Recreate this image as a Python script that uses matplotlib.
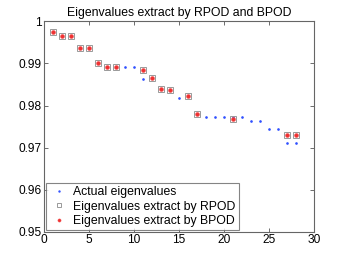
import matplotlib
matplotlib.use("Agg")
import matplotlib.pyplot as plt

plt.rcParams['font.family'] = ['Liberation Sans', 'DejaVu Sans']

actual_x = list(range(1, 29))
actual_y = [0.9975, 0.9966, 0.9966, 0.9937, 0.9937, 0.9900, 0.9892, 0.9892,
            0.9892, 0.9892, 0.9863, 0.9866, 0.9840, 0.9836, 0.9819, 0.9822,
            0.9781, 0.9773, 0.9773, 0.9773, 0.9773, 0.9773, 0.9763, 0.9763,
            0.9744, 0.9744, 0.9711, 0.9711]

ext_x = [1, 2, 3, 4, 5, 6, 7, 8, 11, 12, 13, 14, 16, 17, 21, 27, 28]
rpod_y = [0.9975, 0.9966, 0.9966, 0.9937, 0.9937, 0.9900, 0.9892, 0.9892,
          0.9884, 0.9866, 0.9840, 0.9836, 0.9822, 0.9781, 0.9768, 0.9729, 0.9729]
bpod_y = list(rpod_y)

title = "Eigenvalues extract by RPOD and BPOD"
labels = ["Actual eigenvalues", "Eigenvalues extract by RPOD", "Eigenvalues extract by BPOD"]
xticks = [0, 5, 10, 15, 20, 25, 30]
yticks = [0.95, 0.96, 0.97, 0.98, 0.99, 1.0]
yticklabels = ["0.95", "0.96", "0.97", "0.98", "0.99", "1"]

fig = plt.figure(figsize=(3.46, 2.6), dpi=100)
ax = fig.add_axes([0.127, 0.108, 0.7805, 0.81])

ax.plot(actual_x, actual_y, linestyle='none', marker='.', markersize=1.8,
        color='#3050ff', label=labels[0])
ax.plot(ext_x, rpod_y, linestyle='none', marker='s', markersize=4.3,
        markerfacecolor='none', markeredgecolor='#999999', markeredgewidth=0.7,
        label=labels[1])
ax.plot(ext_x, bpod_y, linestyle='none', marker='o', markersize=2.8,
        markerfacecolor='#f03030', markeredgecolor='#f05050', markeredgewidth=0.4,
        label=labels[2])

ax.set_xlim(0, 30)
ax.set_ylim(0.95, 1.0)
ax.set_xticks(xticks)
ax.set_yticks(yticks)
ax.set_yticklabels(yticklabels)
ax.tick_params(direction='in', length=3, width=0.6, colors='#555555',
               labelcolor='black', labelsize=8.6, top=True, right=True, pad=1.5)
for s in ax.spines.values():
    s.set_color('#666666')
    s.set_linewidth(0.8)

ax.set_title(title, fontsize=8.8, pad=4)

leg = ax.legend(loc='lower left', fontsize=8.8, frameon=True, fancybox=False,
                borderaxespad=0.15, handletextpad=0.4, handlelength=1.6,
                borderpad=0.25, labelspacing=0.2, markerscale=0.8)
leg.get_frame().set_edgecolor('#666666')
leg.get_frame().set_linewidth(0.8)

fig.savefig("out.png", dpi=100)
